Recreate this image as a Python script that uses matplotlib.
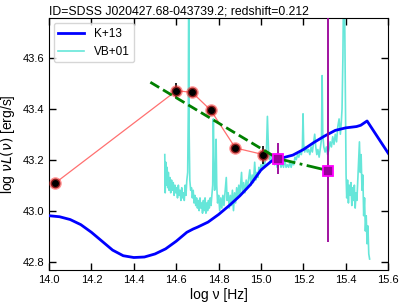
import matplotlib
matplotlib.use('Agg')
import matplotlib.pyplot as plt
import numpy as np

plt.rcParams['font.family'] = ['Liberation Sans', 'DejaVu Sans']

title = 'ID=SDSS J020427.68-043739.2; redshift=0.212'

# photometric points (red/black circles)
photLogNu = [14.027, 14.601, 14.675, 14.763, 14.879, 15.011]
photLogL = [43.107, 43.471, 43.464, 43.394, 43.246, 43.220]
photErr = [0.01, 0.03, 0.01, 0.01, 0.01, 0.035]

# UV points (magenta squares)
uvLogNu = [15.080, 15.318]
uvLogL = [43.204, 43.157]
uvErrLow = [0.06, 0.28]
uvErrHigh = [0.06, 0.70]

# power-law fits (green)
optFitNu = [14.478, 15.080]
optFitL = [43.504, 43.204]
uvFitNu = [15.080, 15.318]
uvFitL = [43.204, 43.157]

# K+13 template
kNu = [14.00, 14.05, 14.10, 14.15, 14.20, 14.25, 14.30, 14.35, 14.40, 14.45,
       14.50, 14.55, 14.60, 14.65, 14.68, 14.70, 14.75, 14.80, 14.85, 14.90,
       14.95, 15.00, 15.05, 15.10, 15.15, 15.20, 15.25, 15.30, 15.35, 15.40,
       15.45, 15.47, 15.50, 15.60]
kL = [42.980, 42.976, 42.965, 42.945, 42.915, 42.880, 42.845, 42.823, 42.816, 42.818,
      42.830, 42.850, 42.880, 42.915, 42.928, 42.935, 42.955, 42.985, 43.020, 43.058,
      43.102, 43.160, 43.195, 43.207, 43.218, 43.240, 43.268, 43.293, 43.315, 43.325,
      43.330, 43.335, 43.352, 43.225]

# VB+01 composite spectrum
vbNu = [14.546, 14.548, 14.551, 14.554, 14.557, 14.560, 14.563, 14.566, 14.570, 14.574,
        14.578, 14.582, 14.586, 14.590, 14.594, 14.598, 14.602, 14.606, 14.610, 14.614,
        14.618, 14.622, 14.626, 14.630, 14.634, 14.638, 14.642, 14.646, 14.650, 14.654,
        14.657, 14.659, 14.661, 14.664, 14.668, 14.672, 14.676, 14.680, 14.684, 14.688,
        14.692, 14.696, 14.700, 14.704, 14.708, 14.712, 14.716, 14.720, 14.724, 14.728,
        14.732, 14.736, 14.740, 14.744, 14.748, 14.752, 14.756, 14.760, 14.764, 14.768,
        14.772, 14.775, 14.778, 14.781, 14.785, 14.788, 14.791, 14.795, 14.800, 14.805,
        14.810, 14.815, 14.820, 14.825, 14.830, 14.836, 14.840, 14.845, 14.850, 14.855,
        14.860, 14.865, 14.870, 14.875, 14.880, 14.885, 14.890, 14.895, 14.900, 14.905,
        14.908, 14.912, 14.918, 14.924, 14.930, 14.936, 14.942, 14.947, 14.952, 14.958,
        14.964, 14.970, 14.975, 14.980, 14.985, 14.990, 14.995, 15.000, 15.005, 15.010,
        15.015, 15.020, 15.025, 15.030, 15.035, 15.040, 15.046, 15.052, 15.058, 15.064,
        15.070, 15.076, 15.082, 15.088, 15.094, 15.100, 15.106, 15.112, 15.118, 15.124,
        15.130, 15.136, 15.142, 15.148, 15.154, 15.160, 15.166, 15.172, 15.178, 15.184,
        15.190, 15.195, 15.198, 15.201, 15.206, 15.212, 15.218, 15.224, 15.230, 15.236,
        15.242, 15.248, 15.253, 15.258, 15.263, 15.268, 15.274, 15.280, 15.285, 15.288,
        15.291, 15.296, 15.302, 15.308, 15.314, 15.320, 15.326, 15.332, 15.338, 15.344,
        15.350, 15.356, 15.362, 15.368, 15.374, 15.378, 15.382, 15.386, 15.390, 15.394,
        15.398, 15.401, 15.404, 15.408, 15.412, 15.416, 15.420, 15.424, 15.428, 15.432,
        15.436, 15.440, 15.444, 15.448, 15.452, 15.456, 15.460, 15.464, 15.468, 15.472,
        15.476, 15.480, 15.484, 15.488, 15.492, 15.496, 15.500, 15.504, 15.508, 15.512]
vbL = [43.22, 43.07, 43.19, 43.10, 43.17, 43.09, 43.15, 43.08, 43.13, 43.07,
       43.12, 43.08, 43.11, 43.06, 43.10, 43.07, 43.09, 43.05, 43.10, 43.06,
       43.08, 43.04, 43.09, 43.05, 43.07, 43.04, 43.10, 43.06, 43.12, 43.15,
       43.40, 43.95, 43.30, 43.12, 43.08, 43.09, 43.05, 43.08, 43.03, 43.06,
       43.02, 43.05, 43.01, 43.04, 43.00, 43.05, 43.01, 43.03, 42.99, 43.04,
       43.00, 43.05, 42.99, 43.03, 43.00, 43.04, 43.01, 43.05, 43.02, 43.06,
       43.10, 43.36, 43.20, 43.08, 43.12, 43.28, 43.10, 43.03, 43.06, 43.00,
       43.05, 43.01, 43.06, 43.02, 43.07, 43.13, 43.04, 43.07, 43.01, 43.06,
       43.02, 43.08, 43.00, 43.07, 43.03, 43.09, 43.05, 43.10, 43.06, 43.12,
       43.15, 43.07, 43.11, 43.07, 43.12, 43.09, 43.13, 43.16, 43.10, 43.14,
       43.11, 43.19, 43.12, 43.15, 43.13, 43.17, 43.15, 43.18, 43.16, 43.19,
       43.17, 43.20, 43.22, 43.37, 43.24, 43.20, 43.22, 43.19, 43.21, 43.18,
       43.20, 43.17, 43.19, 43.20, 43.17, 43.19, 43.17, 43.20, 43.17, 43.18,
       43.17, 43.19, 43.17, 43.19, 43.18, 43.21, 43.20, 43.22, 43.21, 43.23,
       43.22, 43.25, 43.38, 43.26, 43.23, 43.25, 43.23, 43.24, 43.22, 43.25,
       43.23, 43.27, 43.30, 43.25, 43.22, 43.24, 43.21, 43.25, 43.28, 43.53,
       43.30, 43.25, 43.23, 43.25, 43.22, 43.24, 43.27, 43.25, 43.29, 43.26,
       43.30, 43.27, 43.33, 43.36, 43.30, 43.34, 43.40, 43.60, 43.95, 43.80,
       43.40, 43.14, 43.05, 43.12, 43.03, 43.10, 43.06, 43.11, 43.02, 43.09,
       43.04, 43.10, 43.01, 43.07, 43.04, 43.12, 43.20, 43.27, 43.15, 43.22,
       43.08, 43.14, 42.98, 43.05, 42.92, 42.98, 42.87, 42.94, 42.83, 42.81]

fig = plt.figure(figsize=(4.07, 3.08), dpi=100)
ax = fig.add_axes([0.1204, 0.1234, 0.8336, 0.8172])

ax.plot(kNu, kL, color='blue', linewidth=2, label='K+13', zorder=3)
ax.plot(vbNu, vbL, color='turquoise', alpha=0.8, linewidth=1.2, label='VB+01', zorder=2)

# photometry: red connecting line, black dots with red halo
ax.plot(photLogNu, photLogL, color='#ff7070', linewidth=0.9, zorder=4)
ax.errorbar(photLogNu, photLogL, yerr=photErr, fmt='none', ecolor='black', elinewidth=1.2, zorder=5)
ax.plot(photLogNu, photLogL, 'o', markersize=7, markerfacecolor='black',
        markeredgecolor=(1, 0.2, 0.2, 0.55), markeredgewidth=2, linestyle='none', zorder=6)

# fits
ax.plot(optFitNu, optFitL, color='green', linestyle='--', linewidth=2, zorder=7)
ax.plot(uvFitNu, uvFitL, color='green', linestyle='-.', linewidth=2, zorder=7)

# UV points
ax.errorbar(uvLogNu, uvLogL, yerr=[uvErrLow, uvErrHigh], fmt='none', ecolor='#990099',
            elinewidth=1.3, zorder=8)
ax.plot(uvLogNu, uvLogL, 's', markersize=7, markerfacecolor='#990099',
        markeredgecolor='#ff00ff', markeredgewidth=1.3, linestyle='none', zorder=9)

ax.set_xlim(14.0, 15.6)
ax.set_ylim(42.767, 43.755)
ax.set_xticks(np.arange(14.0, 15.61, 0.2))
ax.set_yticks([42.8, 43.0, 43.2, 43.4, 43.6])
ax.xaxis.set_major_formatter(matplotlib.ticker.FormatStrFormatter('%.1f'))
ax.yaxis.set_major_formatter(matplotlib.ticker.FormatStrFormatter('%.1f'))
ax.tick_params(direction='in', top=True, right=True, length=5, width=1, labelsize=8)

ax.set_xlabel('log ν [Hz]', fontsize=10, labelpad=2)
ax.set_ylabel(r'log $\nu L(\nu)$ [erg/s]', fontsize=10, labelpad=4)
ax.set_title(title, fontsize=8.8, loc='left', pad=3)

ax.legend(loc='upper left', fontsize=8.5, handlelength=2.2, borderaxespad=0.4)

fig.savefig('out.png', dpi=100)
